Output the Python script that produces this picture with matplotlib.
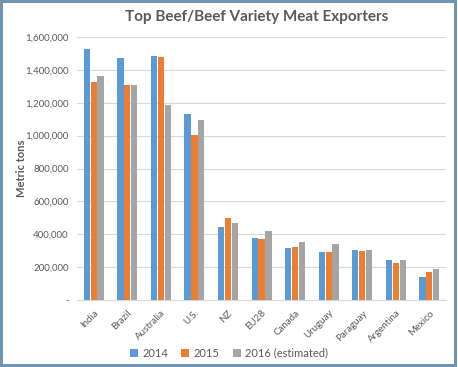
import matplotlib
matplotlib.use("Agg")
import matplotlib.pyplot as plt
import numpy as np
from matplotlib.patches import Rectangle
from matplotlib.ticker import FuncFormatter

plt.rcParams["font.family"] = ["Lato", "DejaVu Sans"]

countries = ["India", "Brazil", "Australia", "U.S.", "NZ", "EU28", "Canada",
             "Uruguay", "Paraguay", "Argentina", "Mexico"]
exports_2014 = [1525000, 1470000, 1483000, 1130000, 446000, 379000, 314000,
                290000, 302000, 241000, 142000]
exports_2015 = [1325000, 1310000, 1479000, 1003000, 497000, 369000, 320000,
                294000, 298000, 227000, 170000]
exports_2016 = [1364000, 1310000, 1185000, 1098000, 470000, 418000, 355000,
                338000, 302000, 241000, 187000]
series_labels = ["2014", "2015", "2016 (estimated)"]
colors = ["#5B9BD5", "#ED7D31", "#A5A5A5"]
text_color = "#595959"

fig = plt.figure(figsize=(4.58, 3.67), dpi=100)
ax = fig.add_axes([0.168, 0.1826, 0.806, 0.7164])

x = np.arange(len(countries))
width = 0.185
for i, (vals, lab, col) in enumerate(zip([exports_2014, exports_2015, exports_2016],
                                         series_labels, colors)):
    ax.bar(x + (i - 1) * 0.205, vals, width, color=col, label=lab, zorder=3)

ax.set_xlim(-0.5, len(countries) - 0.5)
ax.set_ylim(0, 1600000)
ax.set_yticks(np.arange(0, 1600001, 200000))
ax.yaxis.set_major_formatter(FuncFormatter(lambda v, p: "-" if v == 0 else f"{int(v):,}"))
ax.grid(axis="y", color="#D9D9D9", lw=0.8, zorder=0)
for s in ["top", "right", "left"]:
    ax.spines[s].set_visible(False)
ax.spines["bottom"].set_color("#D9D9D9")
ax.tick_params(length=0, labelsize=7, colors=text_color, pad=6)
ax.set_xticks(x)
ax.set_xticklabels(countries, rotation=45, ha="right", rotation_mode="anchor")

fig.text(0.046, 0.542, "Metric tons", rotation=90, ha="center", va="center",
         fontsize=8, fontweight="bold", color=text_color)
fig.text(0.56, 0.953, "Top Beef/Beef Variety Meat Exporters", ha="center", va="center",
         fontsize=11, fontweight="bold", color=text_color)

fig.legend(loc="center", bbox_to_anchor=(0.5, 0.038), ncol=3, frameon=False,
           fontsize=8, handlelength=0.7, handleheight=0.7, columnspacing=1.2,
           handletextpad=0.4, labelcolor=text_color)

fig.patches.append(Rectangle((0.003, 0.006), 0.991, 0.99, transform=fig.transFigure,
                             fill=False, edgecolor="#7393B3", lw=2.2))

fig.savefig("out.png", dpi=100)
